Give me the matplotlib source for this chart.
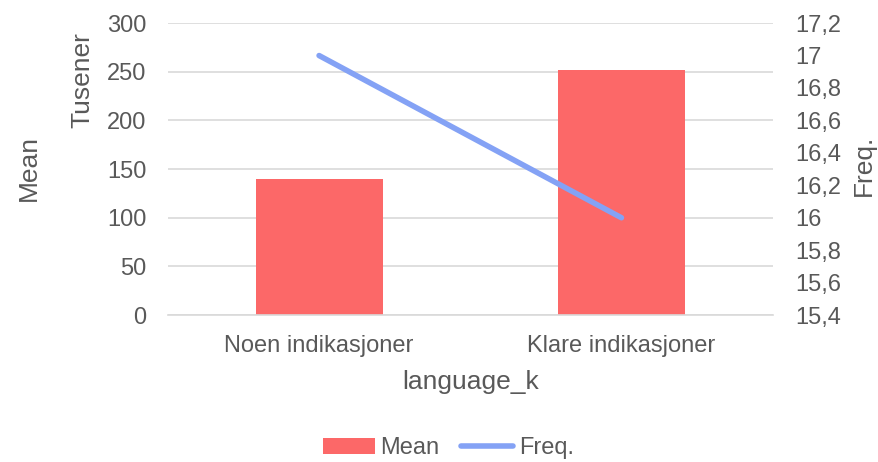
import matplotlib
matplotlib.use("Agg")
import matplotlib.pyplot as plt
from matplotlib.ticker import FuncFormatter, MultipleLocator
from matplotlib.patches import Patch
from matplotlib.lines import Line2D

categories = ["Noen indikasjoner", "Klare indikasjoner"]
mean_values = [140, 252]          # in thousands (Tusener)
freq_values = [17.0, 16.0]

plt.rcParams['font.family'] = ['Liberation Sans', 'DejaVu Sans']
TXT = "#595959"
BAR = "#FC6868"
LINE = "#84A2F5"
GRID = "#D9D9D9"
FS = 17
TFS = 19

fig = plt.figure(figsize=(8.79, 4.62), dpi=100)
ax = fig.add_axes([0.191, 0.318, 0.688, 0.632])
ax2 = ax.twinx()

x = list(range(len(categories)))
ax.bar(x, mean_values, width=0.42, color=BAR, zorder=2)
ax.set_xlim(-0.5, 1.5)
ax.set_ylim(0, 300)
ax.yaxis.set_major_locator(MultipleLocator(50))
ax.grid(axis='y', color=GRID, linewidth=1.2, zorder=0)
ax.set_axisbelow(True)
ax.set_xticks(x)
ax.set_xticklabels(categories)
ax.tick_params(axis='both', length=0, colors=TXT, labelsize=FS)
ax.tick_params(axis='y', pad=15.5)
ax.tick_params(axis='x', pad=14.5)
for s in ax.spines.values():
    s.set_visible(False)
ax.spines['bottom'].set_visible(True)
ax.spines['bottom'].set_color(GRID)
ax.spines['bottom'].set_linewidth(1.2)

ax2.plot(x, freq_values, color=LINE, linewidth=4, solid_capstyle='round', zorder=3)
ax2.set_ylim(15.4, 17.2)
ax2.yaxis.set_major_locator(MultipleLocator(0.2))
ax2.yaxis.set_major_formatter(FuncFormatter(lambda v, p: ("%g" % round(v, 1)).replace('.', ',')))
ax2.tick_params(axis='y', length=0, colors=TXT, labelsize=FS, pad=16)
for s in ax2.spines.values():
    s.set_visible(False)

ax.set_xlabel("language_k", color=TXT, fontsize=TFS, labelpad=9)
fig.text(0.033, 0.636, "Mean", rotation=90, color=TXT, fontsize=TFS, ha='center', va='center')
fig.text(0.094, 0.827, "Tusener", rotation=90, color=TXT, fontsize=TFS, ha='center', va='center')
fig.text(0.983, 0.643, "Freq.", rotation=90, color=TXT, fontsize=TFS, ha='center', va='center')

handles = [Patch(facecolor=BAR, edgecolor='none'),
           Line2D([0], [0], color=LINE, linewidth=4, solid_capstyle='round')]
fig.legend(handles, ["Mean", "Freq."], loc='center', bbox_to_anchor=(0.51, 0.03),
           ncol=2, frameon=False, fontsize=FS, labelcolor=TXT,
           handlelength=2.2, handleheight=0.7, handletextpad=0.25, columnspacing=0.9)

fig.savefig("out.png", dpi=100)
